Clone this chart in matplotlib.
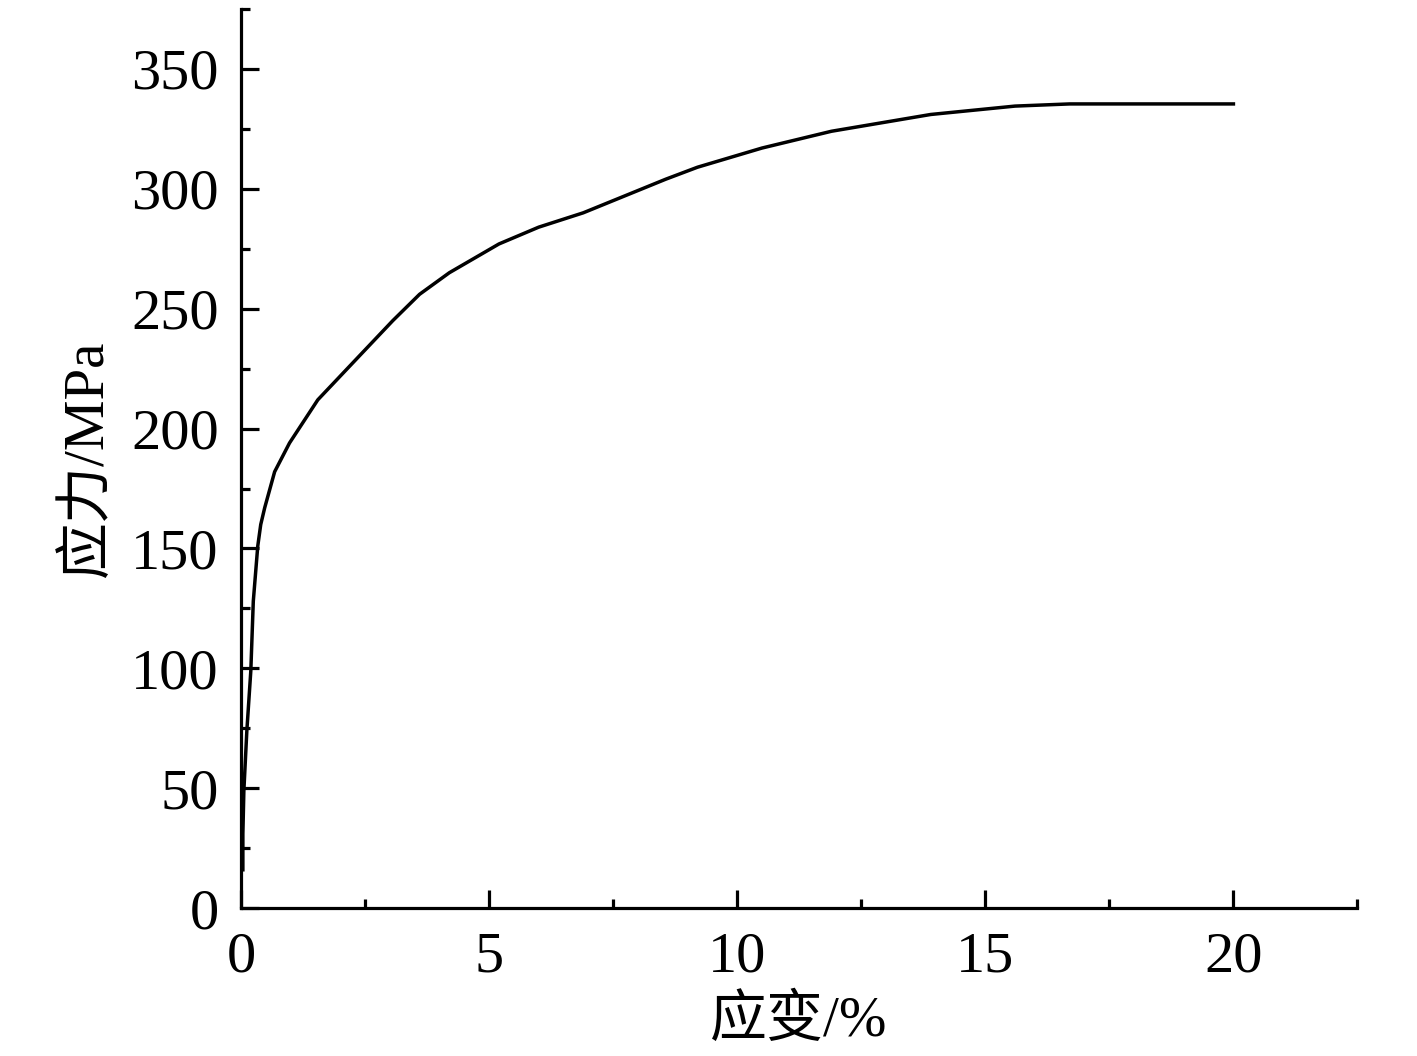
import numpy as np
import matplotlib
matplotlib.use("Agg")
import matplotlib.pyplot as plt
from matplotlib.ticker import MultipleLocator

plt.rcParams['font.family'] = ['Liberation Serif', 'Noto Sans CJK SC']

# strain (%) and stress (MPa)
strain = [0.04, 0.04, 0.06, 0.12, 0.20, 0.25, 0.34, 0.40, 0.48, 0.68, 0.98, 1.55,
          2.19, 3.06, 3.6, 4.2, 5.2, 6.0, 6.9, 8.56, 9.2, 10.5, 11.9, 13.9, 15.6,
          16.7, 19.3, 20.0]
stress = [16, 31, 49, 74, 99, 128, 151, 160, 167, 182, 194, 212,
          226, 245, 256, 265, 277, 284, 290, 304, 309, 317, 324, 331, 334.5,
          335.4, 335.4, 335.4]

xlabel = '应变/%'
ylabel = '应力/MPa'

fig = plt.figure(figsize=(14.17, 10.56), dpi=100)
ax = fig.add_axes([0.170, 0.140, 0.788, 0.8515])

ax.plot(strain, stress, color='black', lw=2.5)

ax.set_xlim(0, 22.5)
ax.set_ylim(0, 375)
ax.xaxis.set_major_locator(MultipleLocator(5))
ax.xaxis.set_minor_locator(MultipleLocator(2.5))
ax.yaxis.set_major_locator(MultipleLocator(50))
ax.yaxis.set_minor_locator(MultipleLocator(25))

for s in ['top', 'right']:
    ax.spines[s].set_visible(False)
for s in ['left', 'bottom']:
    ax.spines[s].set_linewidth(2.3)

ax.tick_params(which='major', direction='in', length=13, width=2.3,
               labelsize=42, pad=16)
ax.tick_params(which='minor', direction='in', length=6.5, width=2.3)
ax.tick_params(axis='x', which='major', pad=17)

ax.set_xlabel(xlabel, fontsize=41, labelpad=8)
ax.set_ylabel(ylabel, fontsize=41, labelpad=12)

fig.savefig('out.png', dpi=100)
